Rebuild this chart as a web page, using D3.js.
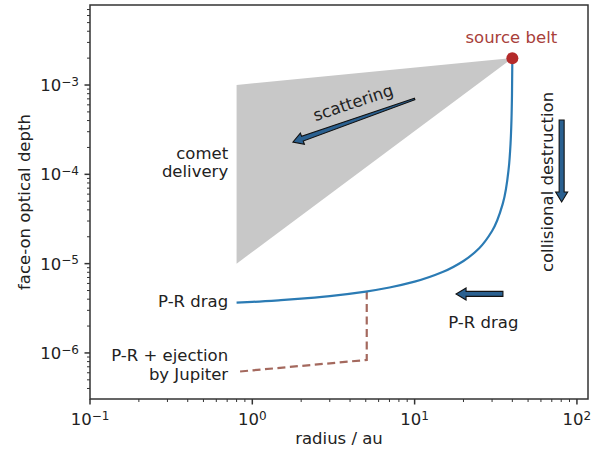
<!DOCTYPE html>
<html>
<head>
<meta charset="utf-8">
<script src="https://cdn.jsdelivr.net/npm/d3@7/dist/d3.min.js"></script>
<style>
  html, body { margin: 0; padding: 0; background: #fff; }
  svg { display: block; font-family: "DejaVu Sans", sans-serif; }
</style>
</head>
<body>
<svg id="chart" width="594" height="454"></svg>
<script>
// ---- data ----
const xDomain = [0.1, 117];
const yDomain = [3.05e-7, 7.87e-3];
const xMajorTicks = [0.1, 1, 10, 100];
const xTickExp = ["\u22121", "0", "1", "2"];
const yMajorTicks = [1e-6, 1e-5, 1e-4, 1e-3];
const yTickExp = ["\u22126", "\u22125", "\u22124", "\u22123"];

// P-R drag profile (radius au, optical depth)
const prRadius = [0.8, 1, 1.5, 2, 3, 5, 7, 10, 15, 20, 25, 30, 35, 38, 39, 39.5, 39.8, 40];
const prTau = [3.66e-6, 3.73e-6, 3.9e-6, 4.05e-6, 4.33e-6, 4.86e-6, 5.4e-6, 6.28e-6, 8.1e-6,
               1.07e-5, 1.49e-5, 2.32e-5, 4.76e-5, 1.17e-4, 2.22e-4, 4.0e-4, 7.7e-4, 2.0e-3];

// P-R + ejection by Jupiter
const ejRadius = [5.07, 5.07, 0.8];
const ejTau = [4.86e-6, 8.35e-7, 6.15e-7];

// comet delivery region
const cometRadius = [0.8, 40, 0.8];
const cometTau = [1e-3, 2e-3, 1e-5];

// source belt
const sourceRadius = [40];
const sourceTau = [2e-3];

// annotation arrows [r, tau] from -> to
const arrowNames = ["scattering", "collisional", "prdrag"];
const arrowFrom = [[10.0, 6.97e-4], [80.5, 4.06e-4], [35, 4.58e-6]];
const arrowTo = [[1.78, 2.3e-4], [80.5, 4.9e-5], [18, 4.58e-6]];

// ---- layout ----
const W = 594, H = 454;
const margin = {left: 90, top: 5, right: 6, bottom: 55};
const FS = 16.5, FSUP = 12;
const svg = d3.select("#chart");
const x = d3.scaleLog().domain(xDomain).range([margin.left, W - margin.right]);
const y = d3.scaleLog().domain(yDomain).range([H - margin.bottom, margin.top]);
const axisColor = "#333";
const textColor = "#222";

// comet delivery triangle
svg.append("path")
  .datum(d3.zip(cometRadius, cometTau))
  .attr("d", d3.line().x(d => x(d[0])).y(d => y(d[1])).curve(d3.curveLinearClosed))
  .attr("fill", "#c8c8c8").attr("stroke", "none");

// P-R + ejection dashed
svg.append("path")
  .datum(d3.zip(ejRadius, ejTau))
  .attr("d", d3.line().x(d => x(d[0])).y(d => y(d[1])))
  .attr("fill", "none").attr("stroke", "#a4695e").attr("stroke-width", 2.2)
  .attr("stroke-dasharray", "8,4.5");

// P-R drag curve
svg.append("path")
  .datum(d3.zip(prRadius, prTau))
  .attr("d", d3.line().x(d => x(d[0])).y(d => y(d[1])).curve(d3.curveMonotoneY))
  .attr("fill", "none").attr("stroke", "#2b7bb4").attr("stroke-width", 2.2);

// source belt point
svg.append("circle")
  .attr("cx", x(sourceRadius[0])).attr("cy", y(sourceTau[0])).attr("r", 6)
  .attr("fill", "#b42a2a");

// arrows
function arrowPath(x0, y0, x1, y1, wTail, wShaft, headW, headL) {
  const dx = x1 - x0, dy = y1 - y0, L = Math.hypot(dx, dy);
  const ux = dx / L, uy = dy / L, nx = -uy, ny = ux;
  const bx = x1 - ux * headL, by = y1 - uy * headL;
  const pts = [
    [x0 + nx * wTail / 2, y0 + ny * wTail / 2],
    [bx + nx * wShaft / 2, by + ny * wShaft / 2],
    [bx + nx * headW / 2, by + ny * headW / 2],
    [x1, y1],
    [bx - nx * headW / 2, by - ny * headW / 2],
    [bx - nx * wShaft / 2, by - ny * wShaft / 2],
    [x0 - nx * wTail / 2, y0 - ny * wTail / 2]
  ];
  return "M" + pts.map(p => p.join(",")).join("L") + "Z";
}
arrowNames.forEach((name, i) => {
  const [r0, t0] = arrowFrom[i], [r1, t1] = arrowTo[i];
  const tapered = name === "scattering";
  svg.append("path")
    .attr("d", arrowPath(x(r0), y(t0), x(r1), y(t1), tapered ? 1.5 : 5, 5, 12, 10))
    .attr("fill", "#2a6090").attr("stroke", "#111").attr("stroke-width", 1.1)
    .attr("stroke-linejoin", "miter");
});

// axes frame
const plotL = margin.left, plotR = W - margin.right, plotT = margin.top, plotB = H - margin.bottom;
svg.append("rect").attr("x", plotL).attr("y", plotT)
  .attr("width", plotR - plotL).attr("height", plotB - plotT)
  .attr("fill", "none").attr("stroke", axisColor).attr("stroke-width", 1.5);

// minor ticks
function minorTicks(domain) {
  const out = [];
  const lo = Math.floor(Math.log10(domain[0])), hi = Math.ceil(Math.log10(domain[1]));
  for (let e = lo; e <= hi; e++) for (let m = 2; m <= 9; m++) {
    const v = m * Math.pow(10, e);
    if (v >= domain[0] && v <= domain[1]) out.push(v);
  }
  return out;
}
const gx = svg.append("g");
minorTicks(xDomain).forEach(v => gx.append("line")
  .attr("x1", x(v)).attr("x2", x(v)).attr("y1", plotB).attr("y2", plotB + 3)
  .attr("stroke", axisColor).attr("stroke-width", 1));
xMajorTicks.forEach((v, i) => {
  gx.append("line").attr("x1", x(v)).attr("x2", x(v)).attr("y1", plotB).attr("y2", plotB + 5.5)
    .attr("stroke", axisColor).attr("stroke-width", 1.5);
  const t = gx.append("text").attr("x", x(v)).attr("y", plotB + 26)
    .attr("text-anchor", "middle").attr("font-size", FS).attr("fill", textColor);
  t.append("tspan").text("10");
  t.append("tspan").attr("dy", "-0.45em").attr("font-size", FSUP).text(xTickExp[i]);
});
const gy = svg.append("g");
minorTicks(yDomain).forEach(v => gy.append("line")
  .attr("x1", plotL).attr("x2", plotL - 3).attr("y1", y(v)).attr("y2", y(v))
  .attr("stroke", axisColor).attr("stroke-width", 1));
yMajorTicks.forEach((v, i) => {
  gy.append("line").attr("x1", plotL).attr("x2", plotL - 5.5).attr("y1", y(v)).attr("y2", y(v))
    .attr("stroke", axisColor).attr("stroke-width", 1.5);
  const t = gy.append("text").attr("x", plotL - 11).attr("y", y(v) + 6)
    .attr("text-anchor", "end").attr("font-size", FS).attr("fill", textColor);
  t.append("tspan").text("10");
  t.append("tspan").attr("dy", "-0.45em").attr("font-size", FSUP).text(yTickExp[i]);
});

// axis labels
svg.append("text").attr("x", (plotL + plotR) / 2).attr("y", 444)
  .attr("text-anchor", "middle").attr("font-size", FS).attr("fill", textColor)
  .text("radius / au");
svg.append("text").attr("transform", `translate(30,${(plotT + plotB) / 2}) rotate(-90)`)
  .attr("text-anchor", "middle").attr("font-size", FS).attr("fill", textColor)
  .text("face-on optical depth");

// annotations
function label(txt, px, py, anchor, color, rot) {
  const t = svg.append("text").attr("font-size", FS).attr("fill", color || textColor)
    .attr("text-anchor", anchor);
  if (rot) t.attr("transform", `translate(${px},${py}) rotate(${rot})`);
  else t.attr("x", px).attr("y", py);
  t.text(txt);
  return t;
}
label("source belt", x(sourceRadius[0]) - 1, y(sourceTau[0]) - 15, "middle", "#a8403a");
label("comet", x(0.71), 159, "end");
label("delivery", x(0.71), 177, "end");
label("P-R drag", x(0.71), y(prTau[0]) + 4, "end");
label("P-R + ejection", x(0.71), 361, "end");
label("by Jupiter", x(0.71), 380, "end");
label("P-R drag", x(26.5), 328, "middle");
label("scattering", 355, 108, "middle", textColor, -18.5);
label("collisional destruction", 553, 182, "middle", textColor, -90);
</script>
</body>
</html>
